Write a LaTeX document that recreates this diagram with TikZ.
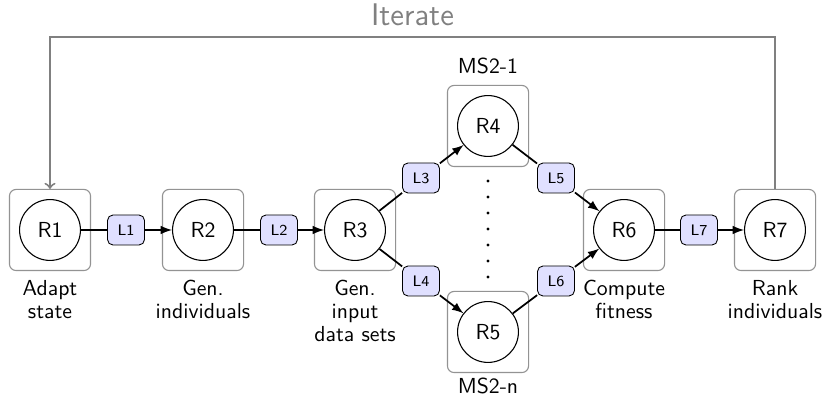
\documentclass[tikz,border=0pt]{standalone}
\usetikzlibrary{positioning}
\begin{document}
\begin{tikzpicture}[x=0.46pt,y=0.46pt,every node/.style={font=\sffamily},
  frame/.style={draw=gray!85,line width=0.5pt,rounded corners=3pt,minimum size=37.3pt,inner sep=0pt},
  proc/.style={draw,circle,line width=0.5pt,minimum size=28pt,inner sep=0pt},
  link/.style={draw,fill=blue!12,rounded corners=2.5pt,font=\sffamily\scriptsize,minimum width=17pt,minimum height=13.8pt,inner sep=1pt},
  caption/.style={align=center,inner sep=2pt,font=\sffamily\fontsize{10}{10.5}\selectfont},
  flow/.style={thick,-latex}]
\useasboundingbox (0,0) rectangle (825,-402);
% frames and processes
\foreach \n/\x/\y in {1/50/230,2/203/230,3/355/230,4/488/126,5/488/332,6/624/230,7/775/230}{
  \node[frame] (F\n) at (\x,-\y) {};
  \node[proc] (R\n) at (\x,-\y) {R\n};
}
% links
\node[link] (L1) at (126,-230) {L1};
\node[link] (L2) at (279,-230) {L2};
\node[link] (L3) at (421,-178) {L3};
\node[link] (L4) at (421,-281) {L4};
\node[link] (L5) at (556,-178) {L5};
\node[link] (L6) at (556,-281) {L6};
\node[link] (L7) at (699,-230) {L7};
\foreach \a/\l/\b in {R1/L1/R2,R2/L2/R3,R3/L3/R4,R3/L4/R5,R4/L5/R6,R5/L6/R6,R6/L7/R7}{
  \draw[thick] (\a) -- (\l);
  \draw[flow] (\l) -- (\b);
}
% more MS2 instances
\foreach \i in {0,...,6}
  \fill (488,-181-16*\i) circle (1.7);
% captions
\node[caption,below=2pt of F1] (C1) {Adapt\\state};
\node[caption,below=2pt of F2] (C2) {Gen.\\individuals};
\node[caption,below=2pt of F3] (C3) {Gen.\\input\\data sets};
\node[caption,below=2pt of F6] (C6) {Compute\\fitness};
\node[caption,below=2pt of F7] (C7) {Rank\\individuals};
\node[caption,above=3pt of F4] (M1) {MS2-1};
\node[caption,below=0pt of F5] (Mn) {MS2-n};
% iterate loop
\draw[gray,line width=0.9pt,->] (F7.north) -- ++(0,152) -| (F1.north)
  node[pos=0.25,above,yshift=1.5pt,font=\sffamily\Large,text=gray] (It) {Iterate};
\end{tikzpicture}
\end{document}
